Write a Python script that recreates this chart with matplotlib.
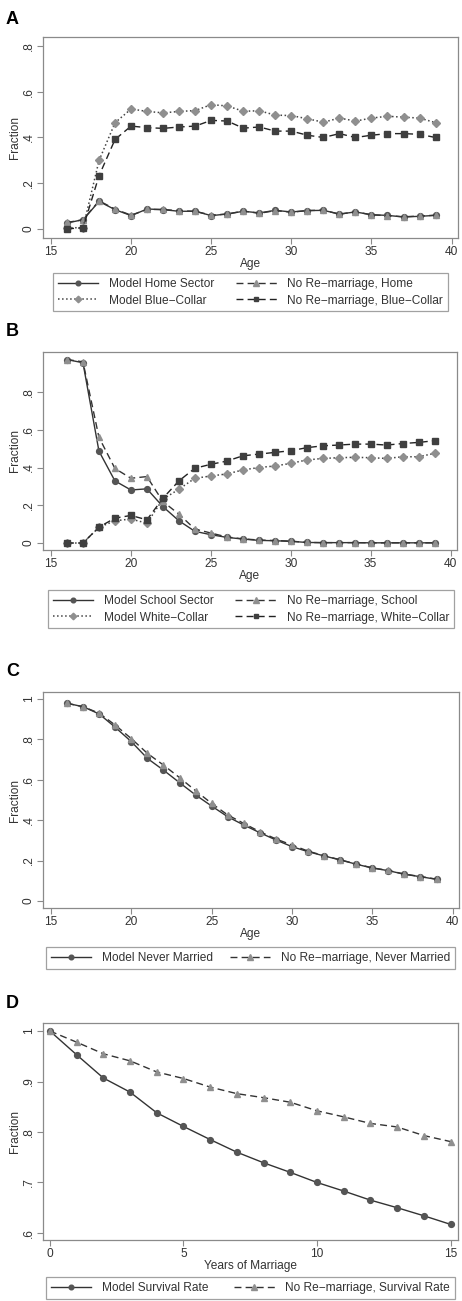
import matplotlib
matplotlib.use("Agg")
import matplotlib.pyplot as plt
from matplotlib.ticker import FuncFormatter

plt.rcParams["font.family"] = ["Liberation Sans", "DejaVu Sans"]

# ---- data ----
ages = list(range(16, 40))

# panel A
home_model = [0.026, 0.04, 0.12, 0.084, 0.058, 0.087, 0.084, 0.077, 0.077, 0.058, 0.065, 0.077,
              0.07, 0.081, 0.074, 0.08, 0.081, 0.065, 0.074, 0.062, 0.059, 0.052, 0.055, 0.059]
home_norem = [0.028, 0.04, 0.123, 0.086, 0.06, 0.085, 0.085, 0.079, 0.077, 0.06, 0.065, 0.078,
              0.068, 0.08, 0.073, 0.08, 0.082, 0.064, 0.075, 0.061, 0.058, 0.053, 0.056, 0.06]
blue_model = [0.005, 0.005, 0.30, 0.465, 0.525, 0.514, 0.508, 0.514, 0.518, 0.544, 0.538, 0.515,
              0.517, 0.498, 0.496, 0.482, 0.467, 0.485, 0.472, 0.485, 0.493, 0.489, 0.485, 0.465]
blue_norem = [0.0, 0.005, 0.233, 0.392, 0.45, 0.443, 0.44, 0.446, 0.45, 0.475, 0.472, 0.441,
              0.446, 0.428, 0.428, 0.41, 0.4, 0.417, 0.4, 0.41, 0.417, 0.417, 0.414, 0.4]

# panel B
school_model = [0.972, 0.955, 0.487, 0.329, 0.281, 0.287, 0.193, 0.118, 0.062, 0.044, 0.03, 0.021,
                0.014, 0.012, 0.009, 0.003, 0.002, 0.002, 0.002, 0.001, 0.001, 0.001, 0.001, 0.001]
school_norem = [0.972, 0.96, 0.56, 0.395, 0.343, 0.352, 0.22, 0.153, 0.074, 0.053, 0.032, 0.022,
                0.016, 0.013, 0.01, 0.003, 0.002, 0.002, 0.002, 0.001, 0.001, 0.001, 0.001, 0.001]
white_model = [0.0, 0.0, 0.083, 0.118, 0.127, 0.105, 0.232, 0.285, 0.343, 0.355, 0.366, 0.387,
               0.4, 0.408, 0.422, 0.44, 0.448, 0.452, 0.454, 0.452, 0.448, 0.457, 0.457, 0.475]
white_norem = [0.0, 0.0, 0.084, 0.132, 0.146, 0.123, 0.237, 0.329, 0.396, 0.417, 0.434, 0.462,
               0.471, 0.48, 0.489, 0.505, 0.515, 0.519, 0.524, 0.524, 0.519, 0.527, 0.533, 0.542]

# panel C
never_model = [0.979, 0.962, 0.926, 0.86, 0.789, 0.706, 0.648, 0.586, 0.525, 0.47, 0.417, 0.376,
               0.338, 0.302, 0.269, 0.244, 0.223, 0.203, 0.182, 0.163, 0.15, 0.132, 0.12, 0.107]
never_norem = [0.979, 0.962, 0.93, 0.871, 0.804, 0.731, 0.673, 0.611, 0.546, 0.483, 0.426, 0.384,
               0.343, 0.307, 0.277, 0.247, 0.224, 0.204, 0.183, 0.164, 0.151, 0.133, 0.121, 0.108]

# panel D
years = list(range(0, 16))
surv_model = [1.0, 0.953, 0.907, 0.879, 0.838, 0.811, 0.785, 0.76, 0.739, 0.72, 0.7, 0.683,
              0.665, 0.65, 0.634, 0.617]
surv_norem = [1.0, 0.978, 0.955, 0.941, 0.919, 0.906, 0.889, 0.876, 0.868, 0.859, 0.842, 0.83,
              0.817, 0.81, 0.793, 0.781]

M = "\u2212"
FS = 8.6

W, H = 462, 1301
fig = plt.figure(figsize=(W / 100, H / 100), dpi=100)


def px_axes(left, top, right, bottom):
    return fig.add_axes([left / W, 1 - bottom / H, (right - left) / W, (bottom - top) / H])


def stata_fmt(v, pos):
    s = "%g" % round(v, 3)
    if s.startswith("0."):
        s = s[1:]
    return s


def style(ax, xlim, ylim, xticks, yticks, xlabel):
    ax.set_xlim(xlim)
    ax.set_ylim(ylim)
    ax.set_xticks(xticks)
    ax.set_yticks(yticks)
    ax.yaxis.set_major_formatter(FuncFormatter(stata_fmt))
    for s in ax.spines.values():
        s.set_color("#8a8a8a")
        s.set_linewidth(0.9)
    ax.tick_params(direction="out", length=4, width=0.8, color="#8a8a8a",
                   labelsize=FS, labelcolor="#333333", pad=2)
    ax.tick_params(axis="y", labelrotation=90)
    for lab in ax.get_yticklabels():
        lab.set_va("center")
    ax.set_xlabel(xlabel, fontsize=FS, color="#333333", labelpad=0)
    ax.set_ylabel("Fraction", fontsize=FS, color="#333333", labelpad=1.5)


def legend(ax, top, bottom, left, right):
    hs = ax.get_lines()
    if len(hs) == 4:
        # fill row by row: models in the left column, no re-marriage on the right
        hs = [hs[0], hs[2], hs[1], hs[3]]
    leg = fig.legend(handles=hs, ncol=2, loc="upper left",
                     bbox_to_anchor=(left / W, 1 - bottom / H, (right - left) / W, (bottom - top) / H),
                     mode="expand", fontsize=FS, frameon=True, fancybox=False, handlelength=3.4,
                     borderpad=0.4, labelspacing=0.4, handletextpad=0.9, borderaxespad=0,
                     columnspacing=1.0, markerscale=0.8)
    fr = leg.get_frame()
    fr.set_edgecolor("#8a8a8a")
    fr.set_linewidth(0.9)
    for t in leg.get_texts():
        t.set_color("#333333")


dark_line = "#333333"
dark_mk = "#555555"
sq_mk = "#3f3f3f"
light_mk = "#8f8f8f"


def model_line(ax, x, y, label):
    ax.plot(x, y, color=dark_line, lw=1.0, marker="o", ms=4.2, mfc=dark_mk, mec=dark_mk, label=label)


def norem_line(ax, x, y, label):
    ax.plot(x, y, color=dark_line, lw=1.0, dashes=(5, 3), marker="^", ms=4.6,
            mfc=light_mk, mec=light_mk, label=label)


def model_dotted(ax, x, y, label):
    ax.plot(x, y, color="#444444", lw=1.1, ls=":", marker="D", ms=4.2,
            mfc=light_mk, mec=light_mk, label=label)


def norem_sq(ax, x, y, label):
    ax.plot(x, y, color="#222222", lw=1.0, dashes=(5, 3), marker="s", ms=4.2,
            mfc=sq_mk, mec=sq_mk, label=label)


def panel_label(txt, y):
    fig.text(6 / W, 1 - y / H, txt, fontsize=13, fontweight="bold", va="center", ha="left")


# ---- A ----
ax = px_axes(43, 37, 458, 238)
model_line(ax, ages, home_model, "Model Home Sector")
norem_line(ax, ages, home_norem, "No Re" + M + "marriage, Home")
model_dotted(ax, ages, blue_model, "Model Blue" + M + "Collar")
norem_sq(ax, ages, blue_norem, "No Re" + M + "marriage, Blue" + M + "Collar")
style(ax, (14.5, 40.4), (-0.04, 0.84), [15, 20, 25, 30, 35, 40], [0, 0.2, 0.4, 0.6, 0.8], "Age")
legend(ax, 273, 315, 53, 448)
panel_label("A", 20)

# ---- B ----
ax = px_axes(43, 352, 457, 550)
model_line(ax, ages, school_model, "Model School Sector")
norem_line(ax, ages, school_norem, "No Re" + M + "marriage, School")
model_dotted(ax, ages, white_model, "Model White" + M + "Collar")
norem_sq(ax, ages, white_norem, "No Re" + M + "marriage, White" + M + "Collar")
style(ax, (14.5, 40.4), (-0.037, 1.012), [15, 20, 25, 30, 35, 40], [0, 0.2, 0.4, 0.6, 0.8], "Age")
legend(ax, 590, 629, 48, 454)
panel_label("B", 332)

# ---- C ----
ax = px_axes(43, 692, 459, 908)
model_line(ax, ages, never_model, "Model Never Married")
norem_line(ax, ages, never_norem, "No Re" + M + "marriage, Never Married")
style(ax, (14.5, 40.4), (-0.035, 1.035), [15, 20, 25, 30, 35, 40], [0, 0.2, 0.4, 0.6, 0.8, 1.0], "Age")
legend(ax, 947, 970, 46, 455)
panel_label("C", 672)

# ---- D ----
ax = px_axes(43, 1023, 458, 1240)
model_line(ax, years, surv_model, "Model Survival Rate")
norem_line(ax, years, surv_norem, "No Re" + M + "marriage, Survival Rate")
style(ax, (-0.26, 15.28), (0.586, 1.016), [0, 5, 10, 15], [0.6, 0.7, 0.8, 0.9, 1.0], "Years of Marriage")
legend(ax, 1277, 1301, 46, 455)
panel_label("D", 1003)

fig.savefig("out.png", dpi=100, facecolor="white")
